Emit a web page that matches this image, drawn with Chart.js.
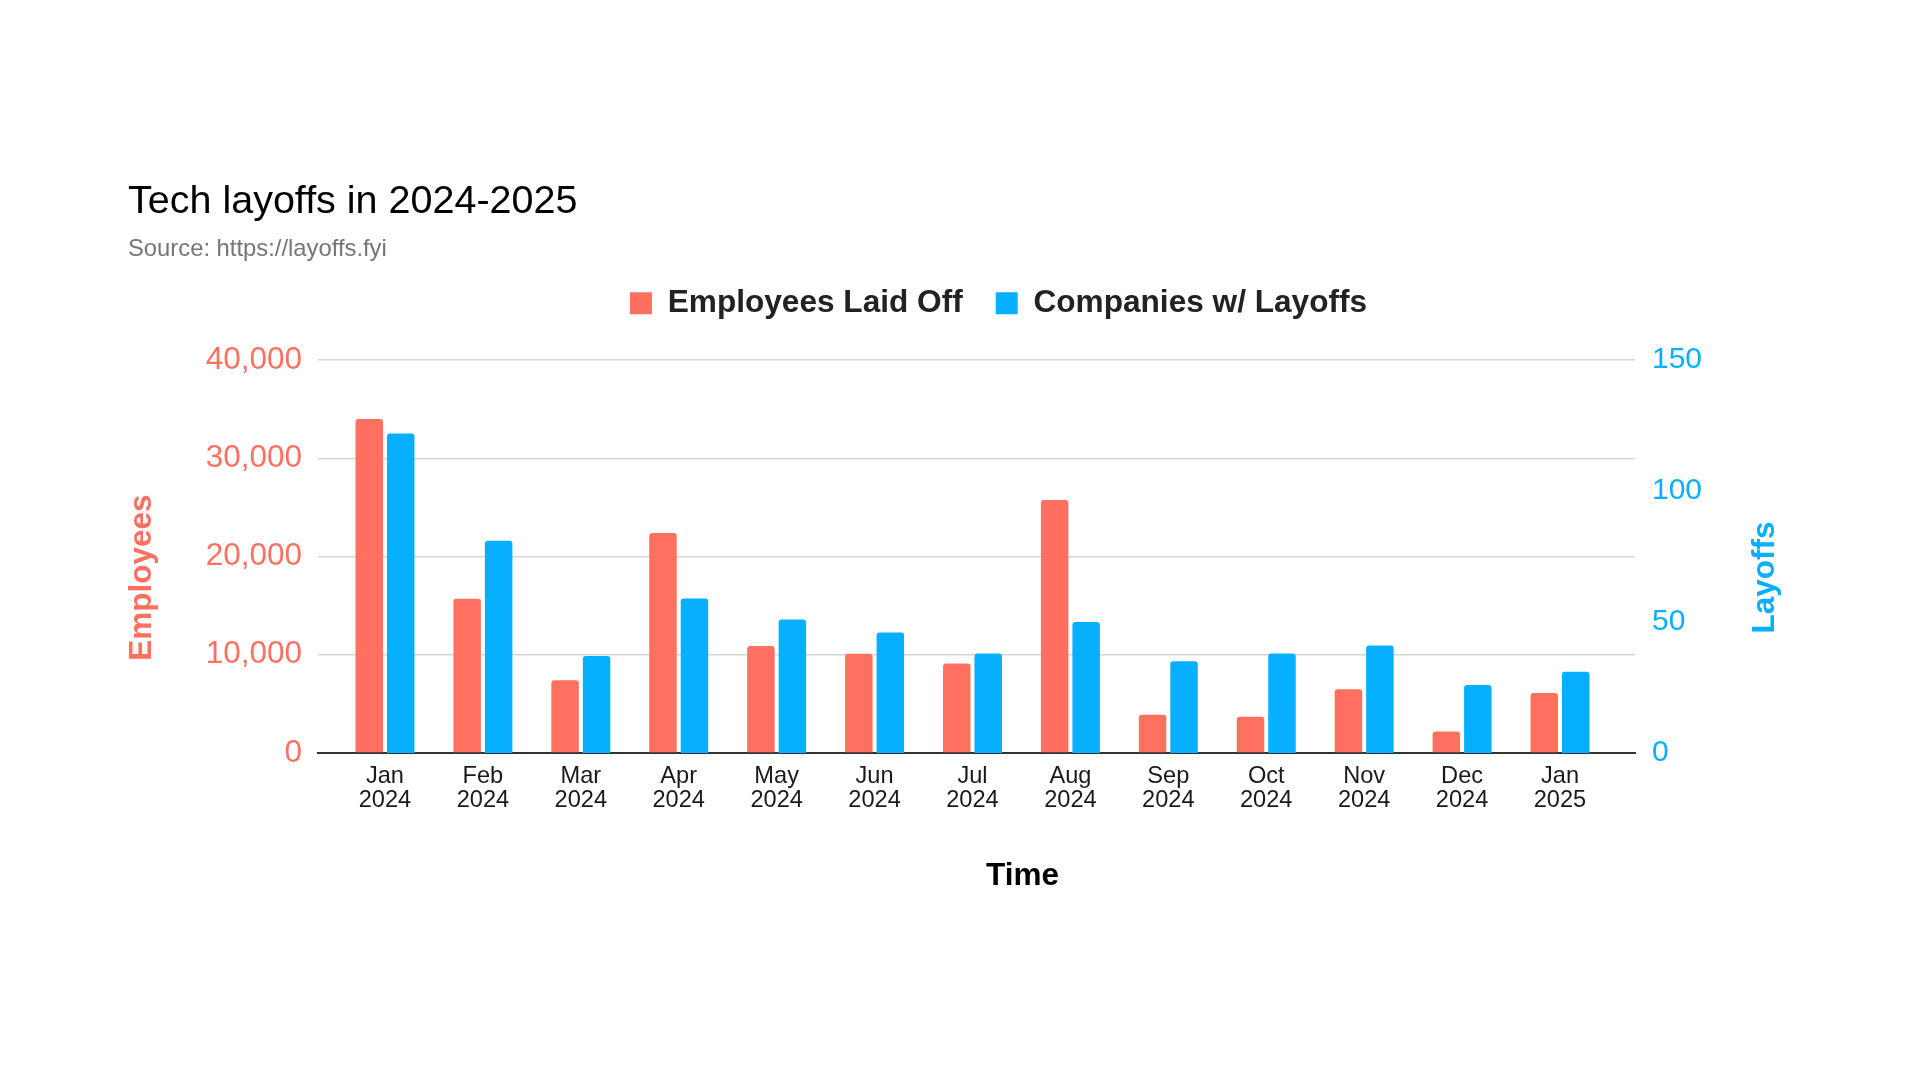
<!DOCTYPE html>
<html lang="en">
<head>
    <meta charset="UTF-8">
    <title>Tech layoffs in 2024-2025</title>
    <style>
        body, html {
            margin: 0;
            padding: 0;
            background: #fff;
        }
        .chart-container {
            width: 1920px;
            height: 1080px;
        }
    </style>
    <script src="https://cdn.jsdelivr.net/npm/chart.js"></script>
</head>
<body>
    <div class="chart-container">
        <canvas id="layoffChart"></canvas>
    </div>
    <script>
        const categories = [
            ['Jan', '2024'], ['Feb', '2024'], ['Mar', '2024'], ['Apr', '2024'],
            ['May', '2024'], ['Jun', '2024'], ['Jul', '2024'], ['Aug', '2024'],
            ['Sep', '2024'], ['Oct', '2024'], ['Nov', '2024'], ['Dec', '2024'],
            ['Jan', '2025']
        ];
        const employeesLaidOff = [34000, 15700, 7400, 22400, 10900, 10100, 9100, 25750, 3900, 3700, 6500, 2200, 6100];
        const companiesWithLayoffs = [122, 81, 37, 59, 51, 46, 38, 50, 35, 38, 41, 26, 31];
        const employeeTicks = [0, 10000, 20000, 30000, 40000];
        const companyTicks = [0, 50, 100, 150];

        const RED = '#ff7061';
        const BLUE = '#07b0fe';
        const FONT = '"Liberation Sans", Arial, sans-serif';

        Chart.defaults.font.family = FONT;

        // axis titles drawn by hand: the right one reads bottom-to-top like the left one
        const axisTitles = {
            id: 'axisTitles',
            afterLayout(chart) {
                // the source legend sits a bit right of the plot centre
                chart.legend.left += 22;
                chart.legend.right += 22;
            },
            afterDraw(chart) {
                const { ctx, chartArea, scales } = chart;
                const midY = (chartArea.top + chartArea.bottom) / 2 + 21;
                ctx.save();
                ctx.font = 'bold 31.5px ' + FONT;
                ctx.textAlign = 'center';
                ctx.textBaseline = 'middle';

                ctx.fillStyle = RED;
                ctx.save();
                ctx.translate(scales.y.left + 14, midY);
                ctx.rotate(-Math.PI / 2);
                ctx.fillText('Employees', 0, 0);
                ctx.restore();

                ctx.fillStyle = BLUE;
                ctx.save();
                ctx.translate(scales.y2.right - 35, midY);
                ctx.rotate(-Math.PI / 2);
                ctx.fillText('Layoffs', 0, 0);
                ctx.restore();

                ctx.fillStyle = '#000';
                ctx.fillText('Time', (chartArea.left + chartArea.right) / 2 + 46, chartArea.bottom + 123);
                ctx.restore();
            }
        };

        const ctx = document.getElementById('layoffChart').getContext('2d');
        new Chart(ctx, {
            type: 'bar',
            data: {
                labels: categories,
                datasets: [{
                    label: 'Employees Laid Off',
                    data: employeesLaidOff,
                    backgroundColor: RED,
                    yAxisID: 'y'
                }, {
                    label: 'Companies w/ Layoffs',
                    data: companiesWithLayoffs,
                    backgroundColor: BLUE,
                    yAxisID: 'y2'
                }]
            },
            options: {
                responsive: true,
                maintainAspectRatio: false,
                animation: false,
                layout: { padding: { left: 128, right: 120, top: 0, bottom: 0 } },
                datasets: {
                    bar: {
                        categoryPercentage: 0.643,
                        barPercentage: 0.873,
                        borderRadius: 3,
                        borderSkipped: 'start'
                    }
                },
                plugins: {
                    title: {
                        display: true,
                        text: 'Tech layoffs in 2024-2025',
                        align: 'start',
                        color: '#000',
                        font: { size: 39.5, weight: 'normal', lineHeight: 1.2 },
                        padding: { top: 178, bottom: 0 }
                    },
                    subtitle: {
                        display: true,
                        text: 'Source: https://layoffs.fyi',
                        align: 'start',
                        color: '#757575',
                        font: { size: 23.8, lineHeight: 0.4 },
                        padding: { top: 19.6, bottom: 0 }
                    },
                    legend: {
                        position: 'top',
                        fullSize: false,
                        labels: {
                            color: '#222',
                            font: { size: 31.6, weight: 'bold' },
                            boxWidth: 22,
                            boxHeight: 22,
                            padding: 33
                        }
                    },
                    tooltip: { enabled: false }
                },
                scales: {
                    x: {
                        grid: { display: false },
                        border: { display: true, color: '#333', width: 2 },
                        ticks: {
                            color: '#1a1a1a',
                            font: { size: 23.6, lineHeight: 1.0 },
                            padding: 4,
                            maxRotation: 0,
                            autoSkip: false
                        },
                        afterBuildTicks: (scale) => {
                            // leave some extra room at both ends, like the source chart
                            scale._startValue = -0.684;
                            scale._valueRange = categories.length + 0.45;
                        },
                        afterFit: (scale) => { scale.height = 327; }
                    },
                    // empty band between the legend and the plot
                    xTop: {
                        type: 'category',
                        position: 'top',
                        grid: { display: false },
                        border: { display: false },
                        ticks: { display: false },
                        afterFit: (scale) => { scale.height = 31; }
                    },
                    y: {
                        position: 'left',
                        min: employeeTicks[0],
                        max: employeeTicks[employeeTicks.length - 1],
                        afterBuildTicks: (scale) => { scale.ticks = employeeTicks.map(v => ({ value: v })); },
                        grid: { color: '#d6d6d6', lineWidth: 1.5, drawTicks: false },
                        border: { display: false },
                        ticks: {
                            color: RED,
                            font: { size: 31.5 },
                            padding: 16,
                            callback: (v) => v.toLocaleString('en-US')
                        },
                        afterFit: (scale) => { scale.width = 190; }
                    },
                    y2: {
                        position: 'right',
                        min: companyTicks[0],
                        max: companyTicks[companyTicks.length - 1],
                        afterBuildTicks: (scale) => { scale.ticks = companyTicks.map(v => ({ value: v })); },
                        grid: { display: false, drawTicks: false },
                        border: { display: false },
                        ticks: {
                            color: BLUE,
                            font: { size: 30 },
                            padding: 17
                        },
                        afterFit: (scale) => { scale.width = 165; }
                    }
                }
            },
            plugins: [axisTitles]
        });
    </script>
</body>
</html>
